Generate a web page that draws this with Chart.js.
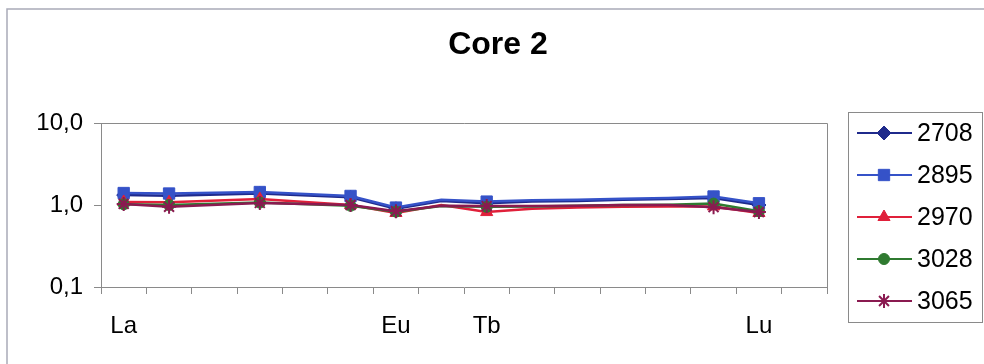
<!DOCTYPE html>
<html>
<head>
<meta charset="utf-8">
<script src="https://cdn.jsdelivr.net/npm/chart.js@4/dist/chart.umd.min.js"></script>
<style>
  html, body { margin: 0; padding: 0; background: #fff; }
</style>
</head>
<body>
<canvas id="ree" width="984" height="364"></canvas>
<script>
// REE pattern, chondrite-normalised, core 2 samples
const elements = ['La', 'Ce', 'Pr', 'Nd', 'Pm', 'Sm', 'Eu', 'Gd', 'Tb', 'Dy', 'Ho', 'Er', 'Tm', 'Yb', 'Lu', ''];
const labelled = ['La', 'Eu', 'Tb', 'Lu'];
const measured = ['La', 'Ce', 'Nd', 'Sm', 'Eu', 'Tb', 'Yb', 'Lu'];
const yTicks = [0.1, 1, 10];
const chartTitle = 'Core 2';

const s2708 = [1.32, 1.30, null, 1.38, null, 1.24, 0.90, 1.12, 1.05, 1.10, 1.12, 1.16, 1.18, 1.22, 1.00, null];
const s2895 = [1.40, 1.38, null, 1.44, null, 1.29, 0.93, 1.16, 1.10, 1.14, 1.16, 1.19, 1.22, 1.27, 1.05, null];
const s2970 = [1.09, 1.08, null, 1.18, null, 1.00, 0.80, 1.00, 0.82, 0.90, 0.93, 0.95, 0.96, 0.96, 0.80, null];
const s3028 = [1.02, 1.00, null, 1.07, null, 0.98, 0.83, 0.97, 0.95, 0.96, 0.98, 1.00, 1.01, 1.04, 0.84, null];
const s3065 = [1.03, 0.95, null, 1.06, null, 1.00, 0.84, 0.98, 0.97, 0.97, 0.98, 1.00, 1.00, 0.94, 0.82, null];

const FONT = "'Liberation Sans', Arial, sans-serif";

function series(label, data, color, style, radius, order) {
    return {
        label: label,
        data: data,
        borderColor: color,
        backgroundColor: color,
        borderWidth: 2.5,
        pointStyle: style,
        pointBorderColor: color,
        pointBackgroundColor: color,
        pointBorderWidth: style === 'star' ? 2 : 1,
        pointRadius: ctx => measured.includes(elements[ctx.dataIndex]) ? radius : 0,
        pointHoverRadius: radius,
        markerSize: radius,
        spanGaps: true,
        tension: 0,
        order: order
    };
}

// outer frame, title, plot-area box and the boxed legend on the right
const framePlugin = {
    id: 'frame',
    beforeDraw(chart) {
        const c = chart.ctx;
        c.save();
        c.fillStyle = '#fff';
        c.fillRect(0, 0, chart.width, chart.height);
        c.strokeStyle = '#a9aab8';
        c.lineWidth = 1.5;
        c.strokeRect(7, 9, chart.width + 20, chart.height + 20);

        c.fillStyle = '#000';
        c.font = 'bold 32px ' + FONT;
        c.textAlign = 'center';
        c.textBaseline = 'middle';
        c.fillText(chartTitle, chart.width / 2 + 6, 45);
        c.restore();
    },
    afterDraw(chart) {
        const c = chart.ctx;
        const a = chart.chartArea;
        c.save();
        c.strokeStyle = '#8a8a8a';
        c.lineWidth = 1;
        c.beginPath();
        c.moveTo(a.left, a.top + 0.5);
        c.lineTo(a.right + 0.5, a.top + 0.5);
        c.lineTo(a.right + 0.5, a.bottom + 7);
        c.stroke();

        // legend
        const lx = a.right + 21, ly = a.top - 11, lw = 134, lh = 210;
        c.strokeRect(lx + 0.5, ly + 0.5, lw, lh);
        c.font = '25px ' + FONT;
        c.textBaseline = 'middle';
        c.textAlign = 'left';
        chart.data.datasets.forEach((ds, i) => {
            const y = ly + 21 + i * 42;
            c.strokeStyle = ds.borderColor;
            c.fillStyle = ds.borderColor;
            c.lineWidth = 2;
            c.beginPath();
            c.moveTo(lx + 9, y);
            c.lineTo(lx + 64, y);
            c.stroke();
            c.lineWidth = ds.pointBorderWidth;
            Chart.helpers.drawPoint(c, {
                pointStyle: ds.pointStyle,
                radius: ds.markerSize,
                rotation: 0,
                borderWidth: ds.pointBorderWidth
            }, lx + 36, y);
            c.fillStyle = '#000';
            c.fillText(ds.label, lx + 69, y + 1);
        });
        c.restore();
    }
};

const chart = new Chart(document.getElementById('ree'), {
    type: 'line',
    data: {
        labels: elements,
        datasets: [
            series('2708', s2708, '#1f2a8c', 'rectRot', 7, 5),
            series('2895', s2895, '#3552c8', 'rect', 8, 4),
            series('2970', s2970, '#e0203a', 'triangle', 7, 3),
            series('3028', s3028, '#2f7a30', 'circle', 5.5, 2),
            series('3065', s3065, '#8a1a50', 'star', 7, 1)
        ]
    },
    options: {
        responsive: false,
        animation: false,
        events: [],
        layout: { padding: { top: 123, left: 0, right: 157, bottom: 0 } },
        plugins: {
            legend: { display: false },
            tooltip: { enabled: false },
            title: { display: false }
        },
        scales: {
            x: {
                type: 'category',
                offset: true,
                afterFit: s => { s.height = 77; },
                grid: { offset: true, drawOnChartArea: false, tickLength: 7, color: '#8a8a8a' },
                border: { color: '#8a8a8a' },
                ticks: {
                    autoSkip: false,
                    maxRotation: 0,
                    padding: 18,
                    color: '#000',
                    font: { family: FONT, size: 24 },
                    callback: (v, i) => labelled.includes(elements[i]) ? elements[i] : ''
                }
            },
            y: {
                type: 'logarithmic',
                min: 0.1,
                max: 10,
                afterFit: s => { s.width = 101; },
                afterBuildTicks: s => { s.ticks = yTicks.map(v => ({ value: v })); },
                grid: { drawOnChartArea: false, tickLength: 7, color: '#8a8a8a' },
                border: { color: '#8a8a8a' },
                ticks: {
                    padding: 11,
                    color: '#000',
                    font: { family: FONT, size: 24 },
                    callback: v => v.toFixed(1).replace('.', ',')
                }
            }
        }
    },
    plugins: [framePlugin]
});
</script>
</body>
</html>
